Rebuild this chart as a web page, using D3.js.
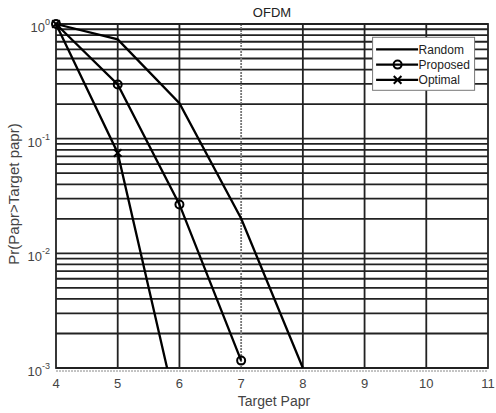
<!DOCTYPE html>
<html>
<head>
<meta charset="utf-8">
<script src="https://cdn.jsdelivr.net/npm/d3@7"></script>
<style>
body { margin: 0; background: #fff; }
text { font-family: "Liberation Sans", Arial, sans-serif; }
</style>
</head>
<body>
<div id="chart"></div>
<script>
// PAPR CCDF curves, log y axis

var xTicks = [4, 5, 6, 7, 8, 9, 10, 11];
var yDecades = [-3, -2, -1, 0];

var papr = [4, 5, 6, 7, 8];
var randomVals = [1, 0.735, 0.204, 0.0201, 0.001];
var proposedVals = [1, 0.297, 0.0267, 0.00116];
var optimalVals = [1, 0.075, 0.00034];

var seriesNames = ["Random", "Proposed", "Optimal"];

var margin = {top: 24, right: 8, bottom: 45, left: 56};
var width = 496 - margin.left - margin.right,
    height = 413 - margin.top - margin.bottom;

var svg = d3.select("#chart").append("svg")
    .attr("width", 496)
    .attr("height", 413)
    .append("g")
    .attr("transform", "translate(" + margin.left + "," + margin.top + ")");

var x = d3.scaleLinear().domain([4, 11]).range([0, width]);
var y = d3.scaleLog().domain([1e-3, 1]).range([height, 0]);

// minor + major horizontal grid
var gridY = [];
yDecades.forEach(function(e) {
    for (var k = 1; k < 10; k++) {
        var v = k * Math.pow(10, e);
        if (v <= 1 && v >= 1e-3) gridY.push(v);
    }
});

svg.append("g").selectAll("line")
    .data(gridY)
    .enter().append("line")
    .attr("x1", 0).attr("x2", width)
    .attr("y1", function(d) { return y(d); })
    .attr("y2", function(d) { return y(d); })
    .style("stroke", "#222")
    .style("stroke-width", 1.8);

svg.append("g").selectAll("line")
    .data(xTicks.filter(function(d) { return d > 4 && d < 11; }))
    .enter().append("line")
    .attr("x1", function(d) { return x(d); })
    .attr("x2", function(d) { return x(d); })
    .attr("y1", 0).attr("y2", height)
    .style("stroke", function(d) { return d === 7 ? "#777" : "#222"; })
    .style("stroke-dasharray", function(d) { return d === 7 ? "2,1" : null; })
    .style("stroke-width", 1.8);

// frame
svg.append("rect")
    .attr("x", 0).attr("y", 0)
    .attr("width", width).attr("height", height)
    .attr("fill", "none")
    .style("stroke", "#222")
    .style("stroke-width", 1.8);

svg.append("line")
    .attr("x1", 0).attr("x2", width)
    .attr("y1", height + 3).attr("y2", height + 3)
    .style("stroke", "#888")
    .style("stroke-dasharray", "2,1")
    .style("stroke-width", 1);

// tick labels
svg.append("g").selectAll("text")
    .data(xTicks)
    .enter().append("text")
    .attr("x", function(d) { return x(d); })
    .attr("y", height + 20)
    .attr("text-anchor", "middle")
    .style("font-size", "13px")
    .attr("fill", "#444")
    .text(function(d) { return d; });

var yl = svg.append("g").selectAll("text")
    .data(yDecades)
    .enter().append("text")
    .attr("x", -6)
    .attr("y", function(d) { return y(Math.pow(10, d)) + 8; })
    .attr("text-anchor", "end")
    .style("font-size", "13px")
    .attr("fill", "#444");
yl.append("tspan").text("10");
yl.append("tspan")
    .attr("dy", -7)
    .style("font-size", "9px")
    .text(function(d) { return d; });

// axis titles
svg.append("text")
    .attr("x", width / 2)
    .attr("y", -7)
    .attr("text-anchor", "middle")
    .style("font-size", "13px")
    .attr("fill", "#222")
    .text("OFDM");

svg.append("text")
    .attr("x", width / 2 + 2)
    .attr("y", height + 38)
    .attr("text-anchor", "middle")
    .style("font-size", "14px")
    .attr("fill", "#444")
    .text("Target Papr");

svg.append("text")
    .attr("transform", "translate(" + (-37) + "," + (height / 2 - 2) + ")rotate(-90)")
    .attr("text-anchor", "middle")
    .style("font-size", "15px")
    .attr("fill", "#444")
    .text("Pr(Papr>Target papr)");

// data
svg.append("clipPath").attr("id", "clip")
    .append("rect").attr("x", -8).attr("y", -8)
    .attr("width", width + 16).attr("height", height + 8);

var plot = svg.append("g").attr("clip-path", "url(#clip)");

var line = d3.line()
    .x(function(d) { return x(d[0]); })
    .y(function(d) { return y(d[1]); });

function pairs(vals) {
    return vals.map(function(v, i) { return [papr[i], v]; });
}

[randomVals, proposedVals, optimalVals].forEach(function(vals) {
    plot.append("path")
        .datum(pairs(vals))
        .attr("d", line)
        .attr("fill", "none")
        .style("stroke", "#000")
        .style("stroke-width", 2.3);
});

plot.selectAll("circle.prop")
    .data(pairs(proposedVals))
    .enter().append("circle")
    .attr("class", "prop")
    .attr("cx", function(d) { return x(d[0]); })
    .attr("cy", function(d) { return y(d[1]); })
    .attr("r", 4)
    .attr("fill", "none")
    .style("stroke", "#000")
    .style("stroke-width", 2);

var cross = d3.symbol().type(d3.symbolX).size(40);
plot.selectAll("path.opt")
    .data(pairs(optimalVals))
    .enter().append("path")
    .attr("class", "opt")
    .attr("transform", function(d) { return "translate(" + x(d[0]) + "," + y(d[1]) + ")"; })
    .attr("d", cross)
    .attr("fill", "none")
    .style("stroke", "#000")
    .style("stroke-width", 2);

// legend
var lg = svg.append("g")
    .attr("transform", "translate(" + x(9.13) + ",13.3)");

lg.append("rect")
    .attr("x", 0).attr("y", 0)
    .attr("width", 102).attr("height", 53)
    .attr("fill", "#fff")
    .style("stroke", "#777")
    .style("stroke-width", 1);

seriesNames.forEach(function(name, i) {
    var yy = 12 + i * 15.3;
    lg.append("line")
        .attr("x1", 3.5).attr("x2", 45.5)
        .attr("y1", yy).attr("y2", yy)
        .style("stroke", "#000")
        .style("stroke-width", 2.3);
    if (name === "Proposed") {
        lg.append("circle")
            .attr("cx", 25).attr("cy", yy).attr("r", 4)
            .attr("fill", "none")
            .style("stroke", "#000").style("stroke-width", 2);
    }
    if (name === "Optimal") {
        lg.append("path")
            .attr("transform", "translate(25," + yy + ")")
            .attr("d", cross)
            .attr("fill", "none")
            .style("stroke", "#000").style("stroke-width", 2);
    }
    lg.append("text")
        .attr("x", 46)
        .attr("y", yy + 4.5)
        .style("font-size", "12px")
        .attr("fill", "#222")
        .text(name);
});
</script>
</body>
</html>
